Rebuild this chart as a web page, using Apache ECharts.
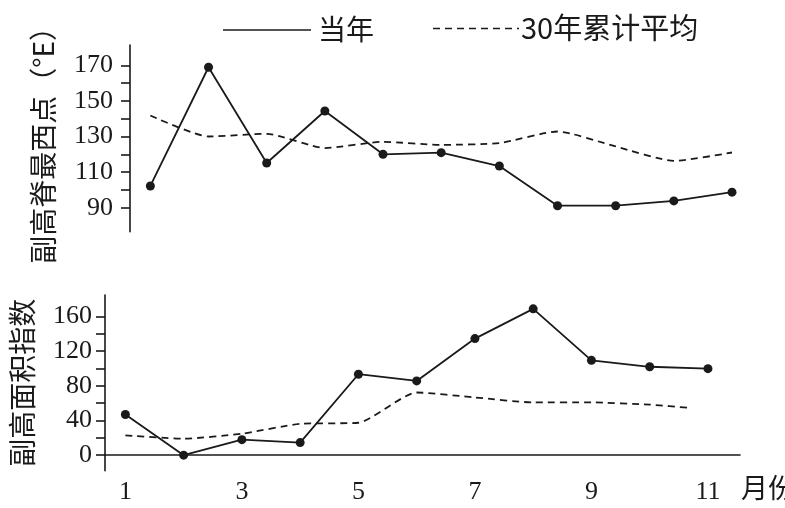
<!DOCTYPE html>
<html>
<head>
<meta charset="utf-8">
<script src="https://cdn.jsdelivr.net/npm/echarts@6/dist/echarts.min.js"></script>
<style>
html,body{margin:0;padding:0;background:#fff;}
#chart{width:785px;height:508px;}
</style>
</head>
<body>
<div id="chart"></div>
<script>
// ---- data ----
var months = [1, 2, 3, 4, 5, 6, 7, 8, 9, 10, 11];
var ridgeThisYear = [102.2, 168.9, 115.1, 144.3, 120, 120.9, 113.4, 91.1, 91.1, 93.8, 98.7];
var ridgeAvg30 = [141.8, 130, 131.5, 123.5, 127, 125.3, 126.3, 132.8, 124.4, 116.3, 121];
var areaThisYear = [46.9, 0, 17.9, 14.5, 93.4, 85.7, 134.5, 168.8, 109.4, 102, 99.8];
var areaAvgMonths = [1, 2, 3, 4, 5, 6, 7, 8, 9, 10, 10.7];
var areaAvg30 = [22.9, 19.1, 24.8, 36.2, 37.4, 72.3, 66.6, 60.9, 60.9, 58.3, 54.5];
var xTickLabels = [1, 3, 5, 7, 9, 11];
var ridgeTicks = [90, 100, 110, 120, 130, 140, 150, 160, 170];
var ridgeLabels = [90, 110, 130, 150, 170];
var areaTicks = [0, 20, 40, 60, 80, 100, 120, 140, 160];
var areaLabels = [0, 40, 80, 120, 160];
var seriesNames = ['当年', '30年累计平均'];
var axisNames = ['副高脊最西点（°E）', '副高面积指数', '月份'];

function pairs(xs, ys) { return xs.map(function (x, i) { return [x, ys[i]]; }); }

var ink = '#1a1a1a';
var serif = 'Liberation Serif';
var cjk = 'Noto Sans CJK SC';

var chart = echarts.init(document.getElementById('chart'), null, {renderer: 'canvas'});

function yAxisCfg(gridIndex, min, max, ticks, labels, name, gap, margin) {
  return {
    type: 'value', gridIndex: gridIndex, min: min, max: max,
    name: name, nameLocation: 'middle', nameGap: gap,
    nameTextStyle: {fontFamily: cjk, fontSize: 28, color: ink},
    axisLine: {show: true, lineStyle: {color: ink, width: 1.6}},
    axisTick: {show: true, length: 9, customValues: ticks, lineStyle: {color: ink, width: 1.6}},
    axisLabel: {customValues: labels, fontFamily: serif, fontSize: 26, color: ink, margin: margin},
    splitLine: {show: false}
  };
}

var option = {
  backgroundColor: '#fff',
  animation: false,
  grid: [
    {left: 130, top: 45, width: 634, height: 186.7, outerBoundsMode: 'none', containLabel: false},
    {left: 105, top: 295, width: 635, height: 175.7, outerBoundsMode: 'none', containLabel: false}
  ],
  xAxis: [
    {type: 'value', gridIndex: 0, min: 0.65, max: 11.55, show: false},
    {type: 'value', gridIndex: 1, min: 0.65, max: 11.55,
     axisLine: {show: true, lineStyle: {color: ink, width: 1.6}},
     axisTick: {show: false},
     axisLabel: {customValues: xTickLabels, fontFamily: serif, fontSize: 26, color: ink, margin: 8},
     splitLine: {show: false}}
  ],
  yAxis: [
    yAxisCfg(0, 76.5, 181.4, ridgeTicks, ridgeLabels, axisNames[0], 73, 17),
    yAxisCfg(1, -17.9, 184.8, areaTicks, areaLabels, axisNames[1], 69, 13)
  ],
  series: [
    {name: seriesNames[0], type: 'line', xAxisIndex: 0, yAxisIndex: 0,
     data: pairs(months, ridgeThisYear), symbol: 'circle', symbolSize: 9,
     itemStyle: {color: ink}, lineStyle: {color: ink, width: 1.8}, z: 3},
    {name: seriesNames[1], type: 'line', xAxisIndex: 0, yAxisIndex: 0,
     data: pairs(months, ridgeAvg30), symbol: 'none', smooth: 0.2,
     lineStyle: {color: ink, width: 1.8, type: [7, 5]}},
    {name: seriesNames[0], type: 'line', xAxisIndex: 1, yAxisIndex: 1,
     data: pairs(months, areaThisYear), symbol: 'circle', symbolSize: 9,
     itemStyle: {color: ink}, lineStyle: {color: ink, width: 1.8}, z: 3},
    {name: seriesNames[1], type: 'line', xAxisIndex: 1, yAxisIndex: 1,
     data: pairs(areaAvgMonths, areaAvg30), symbol: 'none', smooth: 0.2,
     lineStyle: {color: ink, width: 1.8, type: [7, 5]}}
  ],
  graphic: [
    {type: 'line', shape: {x1: 223, y1: 30, x2: 311, y2: 30}, style: {stroke: ink, lineWidth: 1.6}},
    {type: 'text', left: 318, top: 15, style: {text: seriesNames[0], fontFamily: cjk, fontSize: 28, fill: ink}},
    {type: 'line', shape: {x1: 433, y1: 28.5, x2: 519, y2: 28.5}, style: {stroke: ink, lineWidth: 1.6, lineDash: [7, 5]}},
    {type: 'text', left: 521, top: 13, style: {text: seriesNames[1], fontFamily: cjk, fontSize: 29, fill: ink}},
    {type: 'text', x: 741, y: 474, style: {text: axisNames[2], fontFamily: cjk, fontSize: 27, fill: ink}}
  ]
};
chart.setOption(option);
</script>
</body>
</html>
